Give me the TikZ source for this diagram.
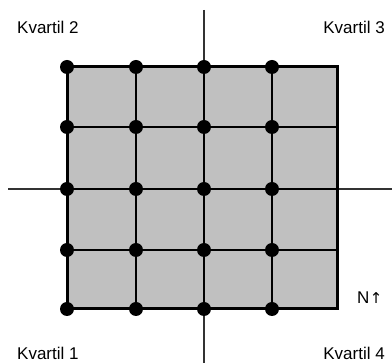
\documentclass[tikz,border=0pt]{standalone}
\usepackage{fontspec}
\setmainfont{Liberation Sans}
\newfontfamily\symfont{DejaVu Sans}
\begin{document}
\begin{tikzpicture}[x=1pt,y=-1pt,
  lbl/.style={font=\fontsize{17}{20}\selectfont, inner sep=0pt},
  dot/.style={circle, fill=black, minimum size=14pt, inner sep=0pt},
  thin line/.style={line width=1.5pt},
  thick line/.style={line width=3pt}]
\useasboundingbox (0,0) rectangle (392,363);
% gray field
\fill[fill={rgb,255:red,192;green,192;blue,192}] (67,67) rectangle (337,309);
% axes
\coordinate (vt) at (204,10);
\coordinate (vb) at (204,363);
\coordinate (hl) at (8,189);
\coordinate (hr) at (392,189);
\draw[line width=1.2pt, black!80] (vt) -- (vb);
\draw[line width=1.2pt, black!80] (hl) -- (hr);
% inner grid
\foreach \x in {136,204,272} \draw[thin line] (\x,67) -- (\x,309);
\foreach \y in {127,189,250} \draw[thin line] (67,\y) -- (337,\y);
% border
\draw[thick line] (67,67) rectangle (337,309);
% dots
\foreach \x [count=\i] in {67,136,204,272}
  \foreach \y [count=\j] in {67,127,189,250,309}
    \node[dot] (d\i\j) at (\x,\y) {};
% labels
\node[lbl, anchor=west] (k2) at (17,27) {Kvartil 2};
\node[lbl, anchor=east] (k3) at (385,27) {Kvartil 3};
\node[lbl, anchor=west] (k1) at (17,353) {Kvartil 1};
\node[lbl, anchor=east] (k4) at (385,353) {Kvartil 4};
\node[lbl, anchor=west] (n) at (357,298) {N\kern0.5pt{\symfont\fontsize{15}{18}\selectfont ↑}};
\end{tikzpicture}
\end{document}
